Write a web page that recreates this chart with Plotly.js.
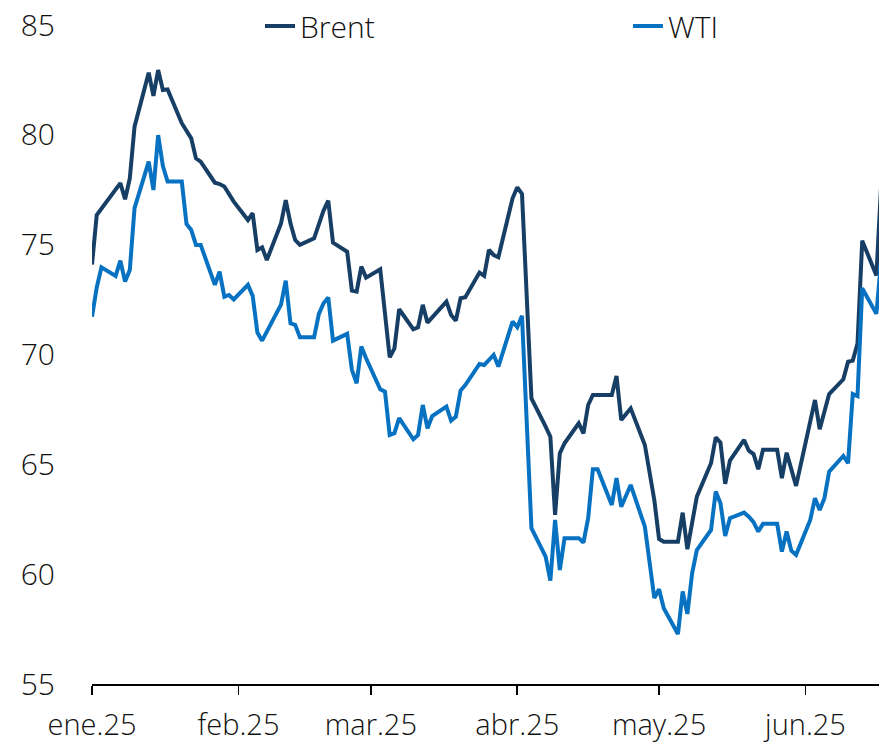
<!DOCTYPE html>
<html>
<head>
<meta charset="utf-8">
<script src="https://cdn.plot.ly/plotly-3.0.1.min.js"></script>
<style>
  html, body { margin: 0; padding: 0; background: #ffffff; }
  #chart { width: 879px; height: 746px; }
</style>
</head>
<body>
<div id="chart"></div>
<script>
// ---- data ----
const brentDates = [
  '2025-01-01','2025-01-02','2025-01-07','2025-01-08','2025-01-09','2025-01-10',
  '2025-01-13','2025-01-14','2025-01-15','2025-01-16','2025-01-17','2025-01-20',
  '2025-01-22','2025-01-23','2025-01-24','2025-01-27','2025-01-28','2025-01-29',
  '2025-01-31','2025-02-03','2025-02-04','2025-02-05','2025-02-06','2025-02-07',
  '2025-02-10','2025-02-11','2025-02-12','2025-02-13','2025-02-14','2025-02-17',
  '2025-02-19','2025-02-20','2025-02-21','2025-02-24','2025-02-25','2025-02-26',
  '2025-02-27','2025-02-28','2025-03-03','2025-03-05','2025-03-06','2025-03-07',
  '2025-03-10','2025-03-11','2025-03-12','2025-03-13','2025-03-17','2025-03-18',
  '2025-03-19','2025-03-20','2025-03-21','2025-03-24','2025-03-25','2025-03-26',
  '2025-03-27','2025-03-28','2025-03-31','2025-04-01','2025-04-02','2025-04-04',
  '2025-04-07','2025-04-08','2025-04-09','2025-04-10','2025-04-11','2025-04-14',
  '2025-04-15','2025-04-16','2025-04-17','2025-04-21','2025-04-22','2025-04-23',
  '2025-04-25','2025-04-28','2025-04-30','2025-05-01','2025-05-02','2025-05-05',
  '2025-05-06','2025-05-07','2025-05-09','2025-05-12','2025-05-13','2025-05-14',
  '2025-05-15','2025-05-16','2025-05-19','2025-05-20','2025-05-21','2025-05-22',
  '2025-05-23','2025-05-26','2025-05-27','2025-05-28','2025-05-30','2025-06-03',
  '2025-06-04','2025-06-06','2025-06-09','2025-06-10','2025-06-11','2025-06-12',
  '2025-06-13','2025-06-16','2025-06-17'
];
const brentValues = [
  74.1, 76.35, 77.8, 77.07, 78.02, 80.37,
  82.83, 81.77, 82.95, 82.04, 82.07, 80.53,
  79.84, 78.93, 78.78, 77.82, 77.76, 77.65,
  76.96, 76.12, 76.43, 74.76, 74.88, 74.30,
  75.97, 77.03, 75.97, 75.21, 74.99, 75.29,
  76.55, 77.0, 75.09, 74.68, 72.91, 72.86,
  74.0, 73.5, 73.88, 69.87, 70.28, 72.06,
  71.15, 71.24, 72.26, 71.45, 72.41, 71.8,
  71.54, 72.56, 72.61, 73.73, 73.58, 74.76,
  74.53, 74.43, 77.11, 77.61, 77.31, 68.0,
  66.72, 66.26, 62.70, 65.5, 65.96, 66.87,
  66.41, 67.70, 68.16, 68.16, 69.02, 67.02,
  67.55, 65.88, 63.38, 61.6, 61.48, 61.48,
  62.8, 61.14, 63.53, 65.05, 66.23, 65.99,
  64.11, 65.17, 66.11, 65.62, 65.47, 64.78,
  65.66, 65.66, 64.37, 65.53, 64.02, 67.93,
  66.60, 68.2, 68.87, 69.67, 69.72, 70.5,
  75.18, 73.6, 77.7
];
const wtiDates = [
  '2025-01-01','2025-01-02','2025-01-03','2025-01-06','2025-01-07','2025-01-08',
  '2025-01-09','2025-01-10','2025-01-13','2025-01-14','2025-01-15','2025-01-16',
  '2025-01-17','2025-01-20','2025-01-21','2025-01-22','2025-01-23','2025-01-24',
  '2025-01-27','2025-01-28','2025-01-29','2025-01-30','2025-01-31','2025-02-03',
  '2025-02-04','2025-02-05','2025-02-06','2025-02-10','2025-02-11','2025-02-12',
  '2025-02-13','2025-02-14','2025-02-17','2025-02-18','2025-02-19','2025-02-20',
  '2025-02-21','2025-02-24','2025-02-25','2025-02-26','2025-02-27','2025-02-28',
  '2025-03-03','2025-03-04','2025-03-05','2025-03-06','2025-03-07','2025-03-10',
  '2025-03-11','2025-03-12','2025-03-13','2025-03-14','2025-03-17','2025-03-18',
  '2025-03-19','2025-03-20','2025-03-21','2025-03-24','2025-03-25','2025-03-27',
  '2025-03-28','2025-03-31','2025-04-01','2025-04-02','2025-04-04','2025-04-07',
  '2025-04-08','2025-04-09','2025-04-10','2025-04-11','2025-04-14','2025-04-15',
  '2025-04-16','2025-04-17','2025-04-18','2025-04-21','2025-04-22','2025-04-23',
  '2025-04-25','2025-04-28','2025-04-30','2025-05-01','2025-05-02','2025-05-05',
  '2025-05-06','2025-05-07','2025-05-08','2025-05-09','2025-05-12','2025-05-13',
  '2025-05-14','2025-05-15','2025-05-16','2025-05-19','2025-05-20','2025-05-21',
  '2025-05-22','2025-05-23','2025-05-26','2025-05-27','2025-05-28','2025-05-29',
  '2025-05-30','2025-06-02','2025-06-03','2025-06-04','2025-06-05','2025-06-06',
  '2025-06-09','2025-06-10','2025-06-11','2025-06-12','2025-06-13','2025-06-16',
  '2025-06-17'
];
const wtiValues = [
  71.72, 73.05, 73.97, 73.58, 74.27, 73.32,
  73.85, 76.66, 78.78, 77.49, 79.99, 78.58,
  77.87, 77.87, 75.94, 75.67, 74.99, 74.99,
  73.17, 73.77, 72.63, 72.71, 72.51, 73.17,
  72.67, 71.0, 70.63, 72.27, 73.36, 71.42,
  71.35, 70.78, 70.78, 71.84, 72.33, 72.6,
  70.63, 70.94, 69.30, 68.69, 70.36, 69.83,
  68.42, 68.31, 66.34, 66.42, 67.1, 66.14,
  66.34, 67.7, 66.64, 67.2, 67.63, 66.99,
  67.17, 68.36, 68.61, 69.57, 69.52, 69.98,
  69.45, 71.5, 71.24, 71.76, 62.09, 60.80,
  59.71, 62.47, 60.19, 61.64, 61.64, 61.44,
  62.55, 64.78, 64.78, 63.15, 64.37, 63.07,
  64.06, 62.16, 58.91, 59.31, 58.45, 57.28,
  59.21, 58.19, 60.04, 61.1, 62.01, 63.76,
  63.23, 61.74, 62.55, 62.80, 62.62, 62.37,
  61.94, 62.29, 62.29, 61.03, 61.94, 61.07,
  60.88, 62.47, 63.46, 62.92, 63.46, 64.67,
  65.38, 65.05, 68.2, 68.11, 73.02, 71.85,
  74.3
];
const monthTicks = ['2025-01-01','2025-02-01','2025-03-01','2025-04-01','2025-05-01','2025-06-01'];
const monthLabels = ['ene.25','feb.25','mar.25','abr.25','may.25','jun.25'];

const FONT = 'Open Sans, Noto Sans, DejaVu Sans, sans-serif';
const TXT = { family: FONT, size: 30, color: '#111111', weight: 300 };
const XTXT = { family: FONT, size: 29, color: '#111111', weight: 300 };

const traces = [
  {
    type: 'scatter', mode: 'lines', name: 'Brent', legend: 'legend',
    x: brentDates, y: brentValues,
    line: { color: '#173F66', width: 4 },
    hoverinfo: 'skip'
  },
  {
    type: 'scatter', mode: 'lines', name: 'WTI', legend: 'legend2',
    x: wtiDates, y: wtiValues,
    line: { color: '#0872C2', width: 4 },
    hoverinfo: 'skip'
  }
];

const legendBase = {
  orientation: 'h', xanchor: 'left',
  y: 0.9985, yanchor: 'middle',
  font: TXT, bgcolor: 'rgba(0,0,0,0)', itemwidth: 30
};

const layout = {
  width: 879, height: 746,
  margin: { l: 92, r: 0, t: 25, b: 62, autoexpand: false },
  paper_bgcolor: '#ffffff', plot_bgcolor: '#ffffff',
  font: TXT,
  showlegend: true,
  legend: Object.assign({}, legendBase, { x: 0.2135 }),
  legend2: Object.assign({}, legendBase, { x: 0.681 }),
  xaxis: {
    type: 'date',
    range: ['2025-01-01', '2025-06-16 13:12'],
    tickmode: 'array', tickvals: monthTicks, ticktext: monthLabels,
    ticks: 'outside', ticklen: 9, tickwidth: 1.6, tickcolor: '#000000',
    showline: true, linecolor: '#000000', linewidth: 2.2,
    showgrid: false, zeroline: false,
    ticklabelstandoff: 5,
    tickfont: XTXT,
    fixedrange: true
  },
  yaxis: {
    range: [55, 85],
    tickmode: 'linear', tick0: 55, dtick: 5,
    ticks: '', showline: false, showgrid: false, zeroline: false,
    ticklabelstandoff: 36,
    tickfont: TXT,
    fixedrange: true
  }
};

Plotly.newPlot('chart', traces, layout, { staticPlot: true, displayModeBar: false });
</script>
</body>
</html>
